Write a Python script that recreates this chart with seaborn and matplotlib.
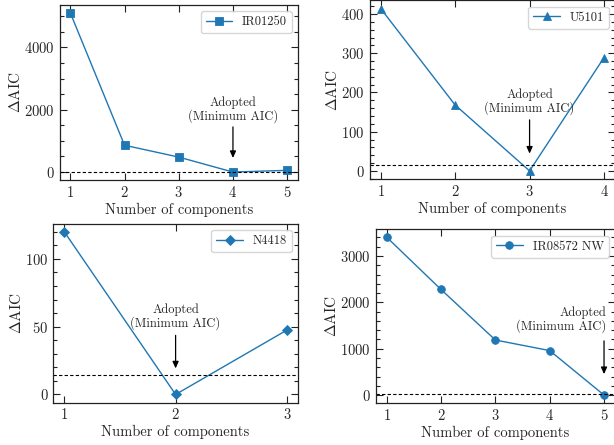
import matplotlib
matplotlib.use("Agg")
import matplotlib.pyplot as plt
from matplotlib.ticker import AutoMinorLocator, MultipleLocator
import seaborn as sns
import pandas as pd

# Delta AIC versus number of Gaussian components, one panel per source
ir01250_n = [1, 2, 3, 4, 5]
ir01250_daic = [5105, 860, 480, 0, 55]

u5101_n = [1, 2, 3, 4]
u5101_daic = [414, 168, 0, 289]

n4418_n = [1, 2, 3]
n4418_daic = [120, 0, 47.5]

ir08572_n = [1, 2, 3, 4, 5]
ir08572_daic = [3405, 2278, 1188, 960, 0]

threshold = 14
adopted_label = "Adopted\n(Minimum AIC)"

sns.set_style("ticks")
plt.rcParams["font.family"] = ["serif"]
plt.rcParams["font.serif"] = ["cmr10", "DejaVu Serif"]
plt.rcParams["mathtext.fontset"] = "cm"
plt.rcParams["axes.formatter.use_mathtext"] = True
plt.rcParams["axes.unicode_minus"] = False

fig = plt.figure(figsize=(6.14, 4.45), dpi=100)

W, H = 614.0, 445.0
BLUE = "#1f77b4"


def frame(left, right, top, bottom):
    return [left / W, 1 - bottom / H, (right - left) / W, (bottom - top) / H]


panels = [
    dict(name="IR01250", n=ir01250_n, d=ir01250_daic, marker="s", ms=5.5,
         pos=frame(59.5, 298, 5, 180), pick=4, text_y=1577, arr=(1448, 450),
         ha="center", ystep=2000),
    dict(name="U5101", n=u5101_n, d=u5101_daic, marker="^", ms=6,
         pos=frame(369.5, 615.2, 0.4, 179), pick=3, text_y=143, arr=(130, 44),
         ha="center", ystep=100),
    dict(name="N4418", n=n4418_n, d=n4418_daic, marker="D", ms=5.5,
         pos=frame(53.2, 298, 223.7, 402.6), pick=2, text_y=47.5, arr=(43.6, 19.2),
         ha="center", ystep=50),
    dict(name="IR08572 NW", n=ir08572_n, d=ir08572_daic, marker="o", ms=5.5,
         pos=frame(375.8, 614.9, 229.3, 403), pick=5, text_y=1336, arr=(1170, 452),
         ha="right", ystep=1000),
]

for p in panels:
    ax = fig.add_axes(p["pos"])
    df = pd.DataFrame({"n": p["n"], "daic": p["d"]})
    sns.lineplot(data=df, x="n", y="daic", marker=p["marker"], markersize=p["ms"],
                 markeredgewidth=0.6, markeredgecolor=BLUE, color=BLUE,
                 linewidth=1.0, label=p["name"], ax=ax)
    ax.axhline(threshold, color="black", linestyle="--", linewidth=0.8, dashes=(3, 2))

    ax.set_xticks(p["n"])
    ax.yaxis.set_major_locator(MultipleLocator(p["ystep"]))
    ax.yaxis.set_minor_locator(AutoMinorLocator())
    ax.tick_params(which="both", direction="in", top=True, right=True,
                   labelsize=10.5, width=0.8, color="#222222")
    ax.tick_params(which="major", length=5)
    ax.tick_params(which="minor", length=3)
    for s in ax.spines.values():
        s.set_linewidth(0.9)
        s.set_color("#222222")

    ax.set_xlabel("Number of components", fontsize=10.5, labelpad=2)
    ax.set_ylabel(r"$\Delta$AIC", fontsize=11, labelpad=1)

    xt = p["pick"] + (0.05 if p["ha"] == "right" else 0)
    ax.text(xt, p["text_y"], adopted_label, ha=p["ha"], va="bottom",
            multialignment=p["ha"], fontsize=9, linespacing=1.05)
    ax.annotate("", xy=(p["pick"], p["arr"][1]), xytext=(p["pick"], p["arr"][0]),
                arrowprops=dict(arrowstyle="-|>,head_length=0.4,head_width=0.18",
                                color="black", linewidth=0.9, shrinkA=0, shrinkB=0))

    ax.legend(loc="upper right", fontsize=9, frameon=True, fancybox=True,
              edgecolor="#cccccc", handlelength=2.1, borderpad=0.4)

fig.savefig("out.png", dpi=100)
